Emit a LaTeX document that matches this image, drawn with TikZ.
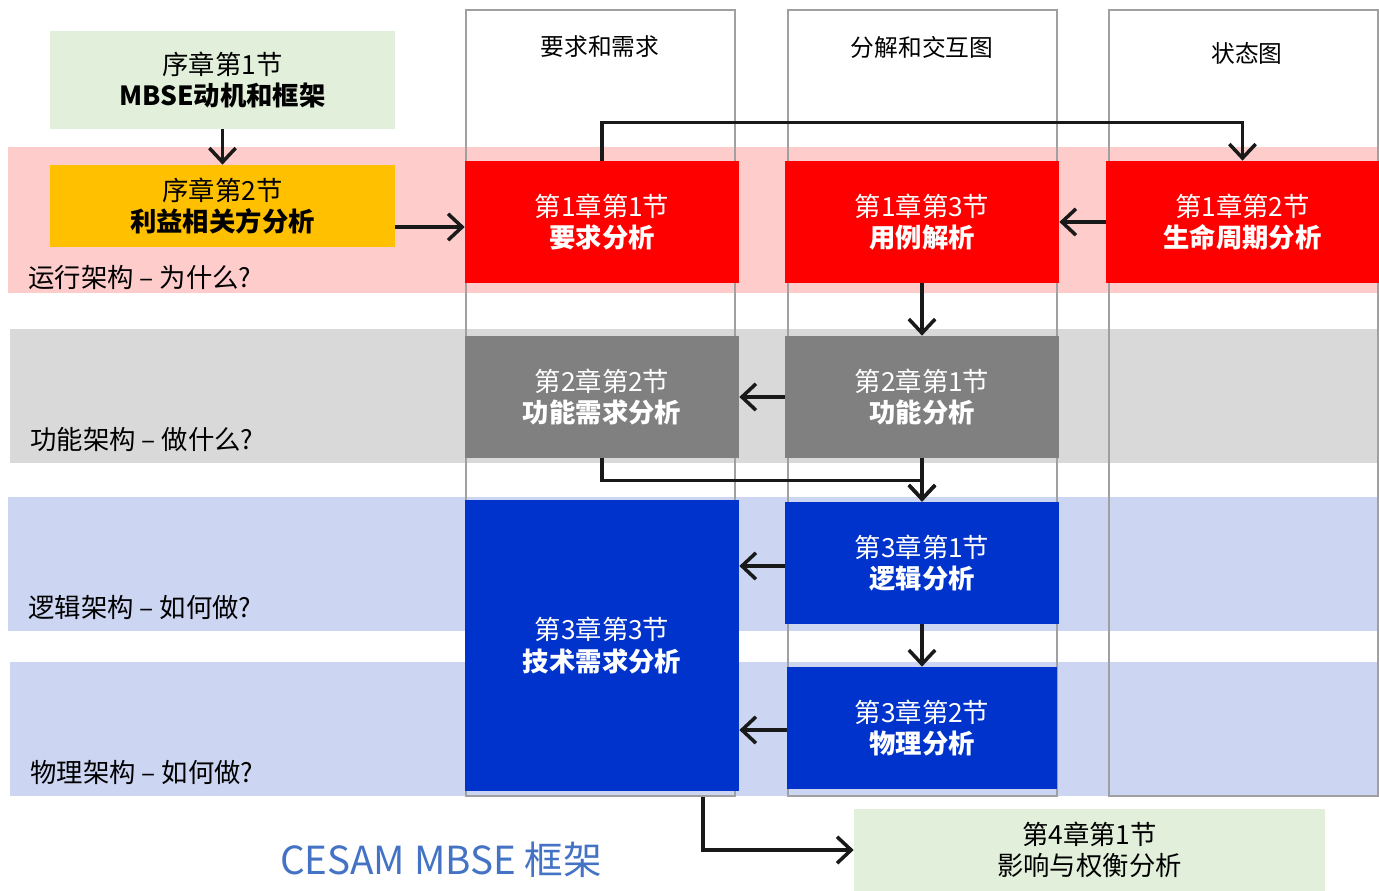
\documentclass[tikz,border=0pt]{standalone}
\usepackage{fontspec}
\setmainfont{Noto Sans CJK SC}
\usetikzlibrary{positioning, arrows.meta}

\definecolor{bandred}{HTML}{FFCCCC}
\definecolor{bandgray}{HTML}{D9D9D9}
\definecolor{bandblue}{HTML}{CCD5F2}
\definecolor{boxred}{HTML}{FF0000}
\definecolor{boxgray}{HTML}{808080}
\definecolor{boxblue}{HTML}{0033CC}
\definecolor{boxgreen}{HTML}{E2EFDA}
\definecolor{boxyellow}{HTML}{FFC000}
\definecolor{titleblue}{HTML}{4472C4}
\definecolor{laneline}{HTML}{A0A0A0}

\tikzset{
  chapbox/.style={inner sep=0pt, align=center, text=white, minimum width=5.48cm, minimum height=2.44cm,
    font=\fontsize{15}{18}\selectfont},
  introbox/.style={chapbox, text=black, minimum width=6.9cm},
  lane/.style={draw=laneline, line width=0.7pt},
  flow/.style={line width=2pt, draw=black!90, -{Straight Barb[length=8pt, width=15pt, line width=2pt]}},
  lanelabel/.style={anchor=west, inner sep=0pt, font=\fontsize{15}{18}\selectfont},
  coltitle/.style={inner sep=0pt, font=\fontsize{13.5}{16}\selectfont},
}

\begin{document}
\begin{tikzpicture}[x=0.02cm, y=-0.02cm]
        \useasboundingbox (0,0) rectangle (1379,891);

        % Bands
        \fill[bandred]  (8,147) rectangle (1379,293);
        \fill[bandgray] (10,329) rectangle (1379,463);
        \fill[bandblue] (8,497) rectangle (1379,631);
        \fill[bandblue] (10,662) rectangle (1379,796);

        % Lanes
        \draw[lane] (466,10) rectangle (735,796);
        \draw[lane] (788,10) rectangle (1057,796);
        \draw[lane] (1109,10) rectangle (1378,796);
        \node[coltitle] (reqtitle) at (600,47) {要求和需求};
        \node[coltitle] (dectitle) at (922,47) {分解和交互图};
        \node[coltitle] (sttitle) at (1247,53) {状态图};

        % Band labels
        \node[lanelabel] (oplabel) at (28,278) {运行架构 – 为什么?};
        \node[lanelabel] (fnlabel) at (30,439) {功能架构 – 做什么?};
        \node[lanelabel] (lglabel) at (28,607) {逻辑架构 – 如何做?};
        \node[lanelabel] (phlabel) at (30,772) {物理架构 – 如何做?};

        % Blocks
        \node[introbox, fill=boxgreen, minimum height=1.96cm] (intro1) at (222.5,80) {序章第1节\\\textbf{MBSE动机和框架}};
        \node[introbox, fill=boxyellow, minimum height=1.64cm] (intro2) at (222.5,206) {序章第2节\\\textbf{利益相关方分析}};
        \node[chapbox, fill=boxred] (reqana) at (602,222) {第1章第1节\\\textbf{要求分析}};
        \node[chapbox, fill=boxred] (usecase) at (922,222) {第1章第3节\\\textbf{用例解析}};
        \node[chapbox, fill=boxred, minimum width=5.46cm] (lifecycle) at (1242.5,222) {第1章第2节\\\textbf{生命周期分析}};
        \node[chapbox, fill=boxgray] (funcreq) at (602,397) {第2章第2节\\\textbf{功能需求分析}};
        \node[chapbox, fill=boxgray] (funcana) at (922,397) {第2章第1节\\\textbf{功能分析}};
        \node[chapbox, fill=boxblue, minimum height=5.82cm] (techreq) at (602,645.5) {第3章第3节\\\textbf{技术需求分析}};
        \node[chapbox, fill=boxblue] (logana) at (922,563) {第3章第1节\\\textbf{逻辑分析}};
        \node[chapbox, fill=boxblue, minimum width=5.4cm] (phyana) at (922,728) {第3章第2节\\\textbf{物理分析}};
        \node[introbox, fill=boxgreen, minimum width=9.42cm, minimum height=1.64cm] (tradeoff) at (1089.5,850) {第4章第1节\\影响与权衡分析};

        \node[inner sep=0pt, text=titleblue, font=\fontsize{22}{24}\selectfont] (frametitle) at (441,860) {CESAM MBSE 框架};

        % Arrows
        \draw[flow] (intro1) -- (intro2);
        \draw[flow] (intro2.east |- 0,227) -- (reqana.west |- 0,227);
        \draw[flow] (reqana.north) -- ++(0,-38) -| (lifecycle.north);
        \draw[flow] (lifecycle.west) -- (usecase.east);
        \draw[flow] (usecase) -- (funcana);
        \draw[flow] (funcana) -- (funcreq);
        \draw[flow] (funcreq.south) -- ++(0,22) -| (logana.north);
        \draw[flow] (funcana.south) -- (logana.north);
        \draw[flow] (logana.west |- 0,566) -- (techreq.east |- 0,566);
        \draw[flow] (logana) -- (phyana);
        \draw[flow] (phyana.west |- 0,730) -- (techreq.east |- 0,730);
        \draw[flow] ([xshift=2.02cm, yshift=-0.12cm]techreq.south) |- (tradeoff.west);
    \end{tikzpicture}
\end{document}
